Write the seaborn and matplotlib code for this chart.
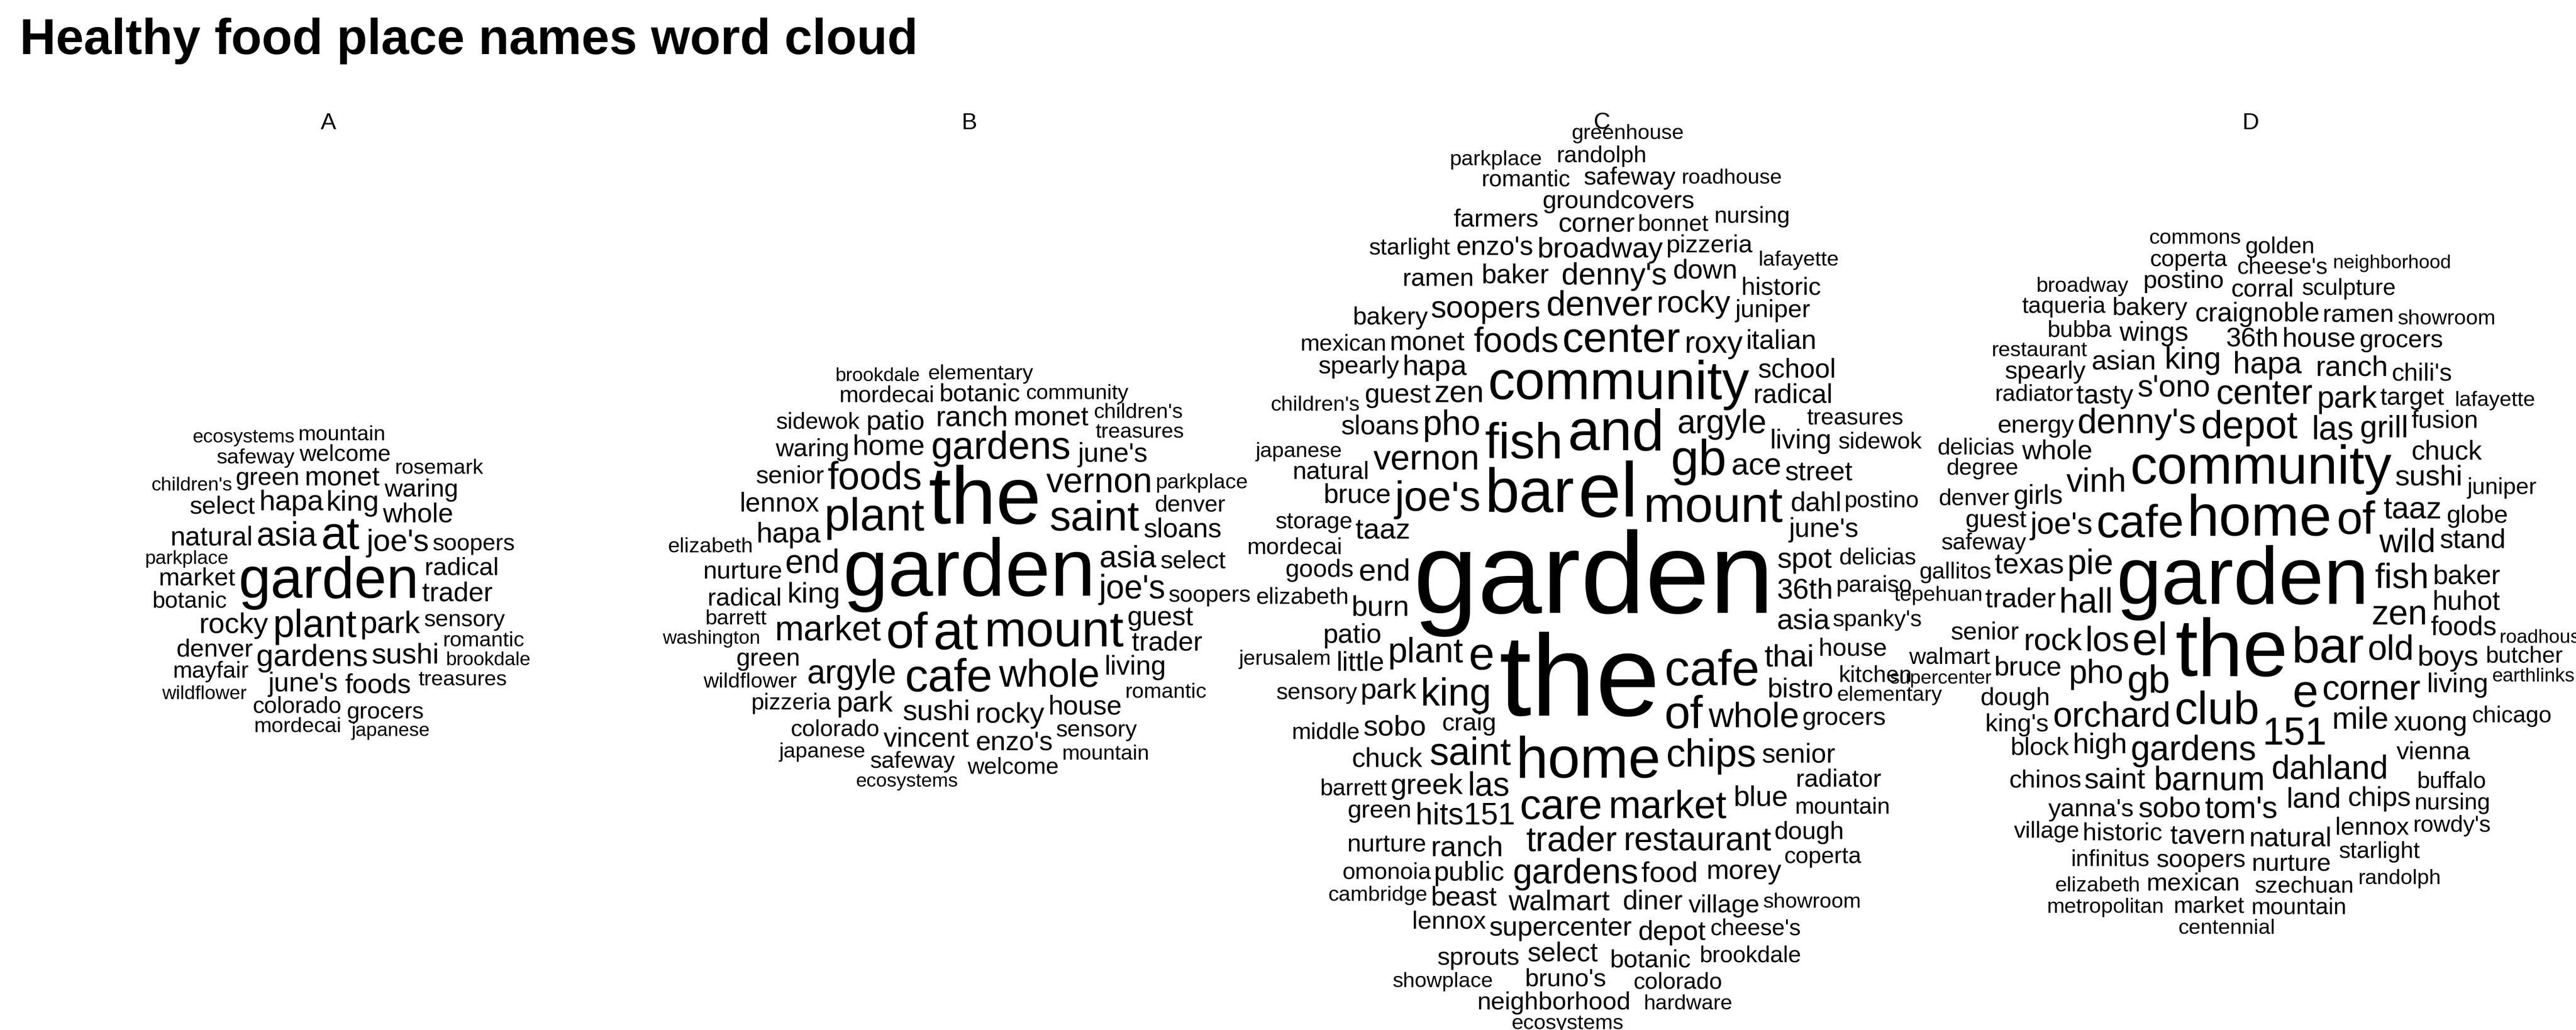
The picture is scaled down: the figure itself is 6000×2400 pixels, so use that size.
import numpy as np
import matplotlib
matplotlib.use("Agg")
import matplotlib.pyplot as plt
import seaborn as sns
from matplotlib.transforms import IdentityTransform

# word: approximate size (display px of the reference)
panel_a = {
    "garden": 30, "at": 24, "plant": 20, "asia": 17, "gardens": 16, "park": 16, "joe's": 16,
    "king": 15, "hapa": 15, "rocky": 15, "sushi": 15, "june's": 14, "whole": 14, "monet": 14,
    "natural": 14, "foods": 14, "trader": 14, "market": 13, "radical": 13, "green": 13,
    "denver": 13, "select": 13, "waring": 13, "botanic": 12, "colorado": 12, "welcome": 12,
    "sensory": 12, "soopers": 12, "mayfair": 12, "grocers": 12, "safeway": 11, "mordecai": 11,
    "mountain": 11, "rosemark": 11, "treasures": 11, "romantic": 11, "parkplace": 10,
    "wildflower": 10, "children's": 10, "japanese": 10, "ecosystems": 10, "brookdale": 10,
}
panel_b = {
    "garden": 42, "the": 42, "at": 28, "mount": 26, "of": 26, "plant": 24, "cafe": 24,
    "saint": 22, "whole": 20, "gardens": 20, "foods": 20, "market": 18, "vernon": 18,
    "argyle": 17, "joe's": 17, "end": 17, "asia": 16, "king": 15, "sushi": 15, "home": 15,
    "rocky": 15, "hapa": 15, "park": 15, "ranch": 15, "house": 14, "guest": 14, "lennox": 14,
    "living": 14, "june's": 14, "patio": 14, "vincent": 14, "monet": 14, "enzo's": 14,
    "trader": 14, "sloans": 14, "senior": 13, "waring": 13, "botanic": 13, "nurture": 13,
    "radical": 13, "select": 13, "green": 13, "sensory": 12, "colorado": 12, "mordecai": 12,
    "pizzeria": 12, "safeway": 12, "soopers": 12, "denver": 12, "welcome": 12, "sidewok": 12,
    "barrett": 11, "treasures": 11, "community": 11, "elementary": 11, "romantic": 11,
    "wildflower": 11, "parkplace": 11, "mountain": 11, "elizabeth": 11, "children's": 11,
    "japanese": 11, "ecosystems": 10, "brookdale": 10, "washington": 10,
}
panel_c = {
    "garden": 60, "the": 60, "el": 40, "bar": 32, "and": 30, "home": 30, "community": 28,
    "mount": 26, "fish": 26, "cafe": 26, "gb": 26, "e": 24, "of": 24, "care": 22,
    "center": 22, "joe's": 22, "market": 20, "king": 20, "chips": 20, "saint": 20,
    "trader": 18, "vernon": 18, "plant": 18, "whole": 18, "denver": 18, "foods": 18,
    "gardens": 18, "pho": 18, "argyle": 17, "restaurant": 17, "las": 17, "ace": 16,
    "hits151": 16, "zen": 16, "denny's": 16, "roxy": 16, "thai": 16, "soopers": 16,
    "end": 16, "rocky": 16, "36th": 15, "burn": 15, "food": 15, "asia": 15, "walmart": 15,
    "broadway": 15, "spot": 15, "hapa": 15, "greek": 15, "taaz": 15, "park": 15,
    "ranch": 15, "sobo": 15, "blue": 15, "bistro": 14, "baker": 14, "diner": 14,
    "june's": 14, "monet": 14, "public": 14, "senior": 14, "living": 14, "supercenter": 14,
    "dahl": 14, "guest": 14, "radical": 14, "sloans": 14, "street": 14, "chuck": 14,
    "down": 14, "bruce": 14, "corner": 14, "morey": 14, "patio": 14, "school": 14,
    "italian": 14, "enzo's": 14, "little": 14, "beast": 14, "depot": 14, "select": 14,
    "village": 13, "pizzeria": 13, "juniper": 13, "groundcovers": 13, "ramen": 13,
    "botanic": 13, "craig": 13, "farmers": 13, "grocers": 13, "house": 13, "natural": 13,
    "green": 13, "nurture": 13, "bakery": 13, "bruno's": 13, "radiator": 13, "safeway": 13,
    "goods": 13, "neighborhood": 13, "lennox": 13, "historic": 13, "dough": 13,
    "spearly": 13, "sprouts": 13, "spanky's": 12, "treasures": 12, "romantic": 12,
    "omonoia": 12, "paraiso": 12, "cheese's": 12, "bonnet": 12, "colorado": 12,
    "storage": 12, "delicias": 12, "elizabeth": 12, "mountain": 12, "barrett": 12,
    "randolph": 12, "sensory": 12, "kitchen": 12, "middle": 12, "postino": 12,
    "starlight": 12, "mordecai": 12, "mexican": 12, "coperta": 12, "brookdale": 12,
    "nursing": 12, "sidewok": 12, "cambridge": 11, "ecosystems": 11, "children's": 11,
    "hardware": 11, "elementary": 11, "lafayette": 11, "parkplace": 11, "japanese": 11,
    "roadhouse": 11, "greenhouse": 11, "showplace": 11, "showroom": 11, "jerusalem": 11,
}
panel_d = {
    "garden": 42, "the": 42, "home": 30, "community": 28, "bar": 26, "cafe": 24,
    "club": 24, "el": 24, "e": 24, "of": 24, "gb": 20, "depot": 20, "151": 20,
    "gardens": 18, "corner": 18, "center": 18, "denny's": 18, "orchard": 18, "los": 18,
    "pie": 18, "zen": 18, "hall": 18, "fish": 18, "old": 18, "barnum": 17, "las": 17,
    "dahland": 17, "vinh": 17, "pho": 17, "wild": 17, "mile": 16, "s'ono": 16, "taaz": 16,
    "hapa": 16, "joe's": 16, "park": 16, "rock": 16, "tom's": 16, "grill": 16, "king": 16,
    "high": 15, "land": 15, "sushi": 15, "sobo": 15, "texas": 15, "saint": 15,
    "ranch": 15, "boys": 15, "36th": 14, "tasty": 14, "whole": 14, "tavern": 14,
    "xuong": 14, "trader": 14, "natural": 14, "foods": 14, "huhot": 14, "craignoble": 14,
    "baker": 14, "house": 14, "asian": 14, "bruce": 14, "girls": 14, "chips": 14,
    "chuck": 14, "living": 14, "stand": 14, "wings": 14, "target": 13, "vienna": 13,
    "soopers": 13, "yanna's": 13, "historic": 13, "globe": 13, "energy": 13, "nurture": 13,
    "dough": 13, "lennox": 13, "fusion": 13, "guest": 13, "block": 13, "chili's": 13,
    "corral": 13, "bakery": 13, "chinos": 13, "ramen": 13, "senior": 13, "grocers": 13,
    "king's": 13, "mexican": 13, "postino": 13, "spearly": 13, "safeway": 12,
    "szechuan": 12, "radiator": 12, "starlight": 12, "sculpture": 12, "infinitus": 12,
    "buffalo": 12, "cheese's": 12, "juniper": 12, "bubba": 12, "degree": 12, "denver": 12,
    "market": 12, "mountain": 12, "nursing": 12, "coperta": 12, "butcher": 12,
    "delicias": 12, "chicago": 12, "gallitos": 12, "golden": 12, "rowdy's": 12,
    "taqueria": 12, "walmart": 12, "village": 12, "restaurant": 11, "lafayette": 11,
    "centennial": 11, "elizabeth": 11, "commons": 11, "broadway": 11, "randolph": 11,
    "metropolitan": 11, "tepehuan": 11, "showroom": 11, "neighborhood": 10,
    "earthlinks": 10, "roadhouse": 10, "supercenter": 10,
}

panels = [("A", panel_a), ("B", panel_b), ("C", panel_c), ("D", panel_d)]
# cloud centre in reference display px (of a 1568 wide view) and vertical stretch
centres = [(200, 355, 0.9), (590, 350, 0.8), (970, 355, 1.45), (1365, 355, 1.15)]
label_x = [200, 590, 975, 1370]

sns.set_theme(style="white")
plt.rcParams["font.family"] = ["Liberation Sans", "DejaVu Sans"]
plt.rcParams["text.color"] = "black"

W, H, DPI = 6000, 2400, 300
SCALE = W / 1568
fig = plt.figure(figsize=(W / DPI, H / DPI), dpi=DPI)
fig.patch.set_facecolor("white")
renderer = fig.canvas.get_renderer()
ident = IdentityTransform()

fig.text(12 * SCALE, H - 25 * SCALE, "Healthy food place names word cloud",
         transform=ident, ha="left", va="center", fontsize=28, fontweight="bold",
         color="black")


def overlaps(b, boxes):
    for o in boxes:
        if b[0] < o[2] and b[2] > o[0] and b[1] < o[3] and b[3] > o[1]:
            return True
    return False


for (label, words), (cx, cy, stretch), lx in zip(panels, centres, label_x):
    fig.text(lx * SCALE, H - 75 * SCALE, label, transform=ident,
             ha="center", va="center", fontsize=13, color="black")
    cxp, cyp = cx * SCALE, H - cy * SCALE
    boxes = []
    for word, size in sorted(words.items(), key=lambda kv: -kv[1]):
        t = fig.text(0, 0, word, transform=ident, ha="center", va="center",
                     fontsize=size * 1.08, color="black")
        bb = t.get_window_extent(renderer=renderer)
        w, h = bb.width + 6, bb.height * 0.95
        step = 0.0
        while True:
            r = 1.6 * step
            x = cxp + r * np.cos(step)
            y = cyp + r * np.sin(step) * stretch
            b = (x - w / 2, y - h / 2, x + w / 2, y + h / 2)
            if not overlaps(b, boxes):
                break
            step += 0.05
        boxes.append(b)
        t.set_position((x, y))

fig.savefig("out.png", dpi=DPI, facecolor="white")
